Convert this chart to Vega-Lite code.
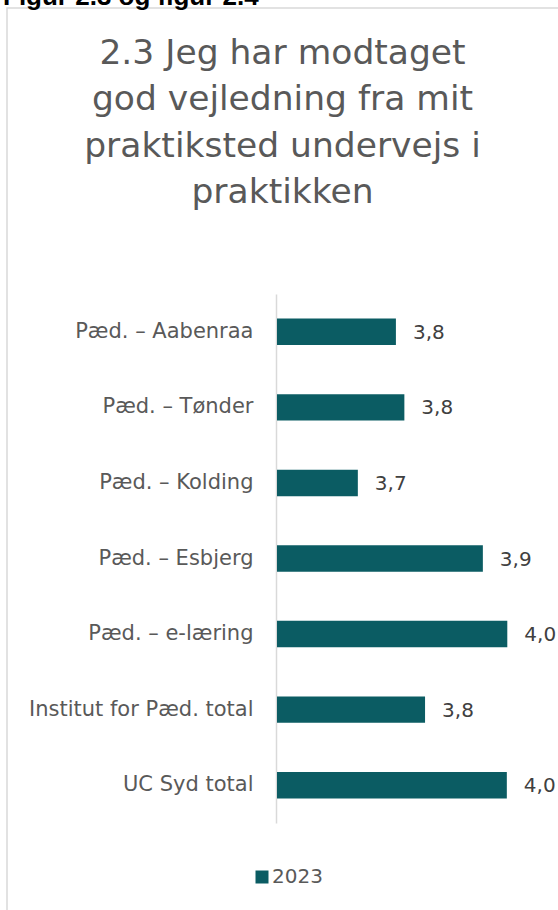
{
  "$schema": "https://vega.github.io/schema/vega-lite/v6.json",
  "autosize": "none",
  "padding": {"left": 7, "top": 8, "right": -10, "bottom": -10},
  "width": 561,
  "height": 912,
  "background": "white",
  "title": {
    "text": "Figur 2.3 og figur 2.4",
    "anchor": "start",
    "orient": "top",
    "offset": -23,
    "dx": -4,
    "baseline": "alphabetic",
    "font": "Liberation Sans",
    "fontSize": 26,
    "fontWeight": "bold",
    "color": "#000000"
  },
  "config": {
    "view": {"stroke": "#d9d9d9", "strokeWidth": 1.5},
    "locale": {
      "number": {"decimal": ",", "thousands": ".", "grouping": [3], "currency": ["", " kr."]}
    }
  },
  "data": {
    "values": [
      {"kategori": "Pæd. – Aabenraa", "year": "2023", "value": 3.753},
      {"kategori": "Pæd. – Tønder", "year": "2023", "value": 3.771},
      {"kategori": "Pæd. – Kolding", "year": "2023", "value": 3.672},
      {"kategori": "Pæd. – Esbjerg", "year": "2023", "value": 3.938},
      {"kategori": "Pæd. – e-læring", "year": "2023", "value": 3.99},
      {"kategori": "Institut for Pæd. total", "year": "2023", "value": 3.815},
      {"kategori": "UC Syd total", "year": "2023", "value": 3.989}
    ]
  },
  "encoding": {
    "y": {
      "field": "kategori",
      "type": "nominal",
      "sort": null,
      "scale": {"range": [286, 815], "paddingInner": 0.65, "paddingOuter": 0.325},
      "axis": {
        "title": null,
        "offset": -269,
        "domainColor": "#d9d9d9",
        "domainWidth": 1.5,
        "ticks": false,
        "grid": false,
        "labelPadding": 23,
        "labelFont": "DejaVu Sans",
        "labelFontSize": 21,
        "labelColor": "#595959",
        "labelLimit": 400
      }
    },
    "x": {
      "field": "value",
      "type": "quantitative",
      "scale": {"domain": [3.5, 4.1], "range": [270, 552], "zero": false, "nice": false},
      "axis": {
        "orient": "top",
        "labels": false,
        "ticks": false,
        "domain": false,
        "grid": false,
        "title": ["2.3 Jeg har modtaget", "god vejledning fra mit", "praktiksted undervejs i", "praktikken"],
        "titleX": 275,
        "titleY": 55,
        "titleAlign": "center",
        "titleBaseline": "alphabetic",
        "titleFont": "DejaVu Sans",
        "titleFontSize": 34.5,
        "titleFontWeight": "normal",
        "titleColor": "#595959",
        "titleLineHeight": 46.5,
        "titleLimit": 1000,
        "titlePadding": 0
      }
    }
  },
  "layer": [
    {
      "mark": {"type": "bar"},
      "encoding": {
        "x2": {"datum": 3.5},
        "color": {
          "field": "year",
          "type": "nominal",
          "scale": {"range": ["#0b5c63"]},
          "legend": {
            "title": null,
            "orient": "none",
            "legendX": 245,
            "legendY": 859,
            "symbolType": "square",
            "symbolSize": 169,
            "symbolStrokeWidth": 0,
            "labelFont": "DejaVu Sans",
            "labelFontSize": 20,
            "labelColor": "#595959",
            "labelOffset": 0,
            "padding": 0
          }
        }
      }
    },
    {
      "mark": {
        "type": "text",
        "align": "left",
        "baseline": "middle",
        "dx": 17,
        "dy": 1,
        "font": "DejaVu Sans",
        "fontSize": 20,
        "color": "#404040"
      },
      "encoding": {
        "text": {"field": "value", "type": "quantitative", "format": ".1f"}
      }
    }
  ]
}
